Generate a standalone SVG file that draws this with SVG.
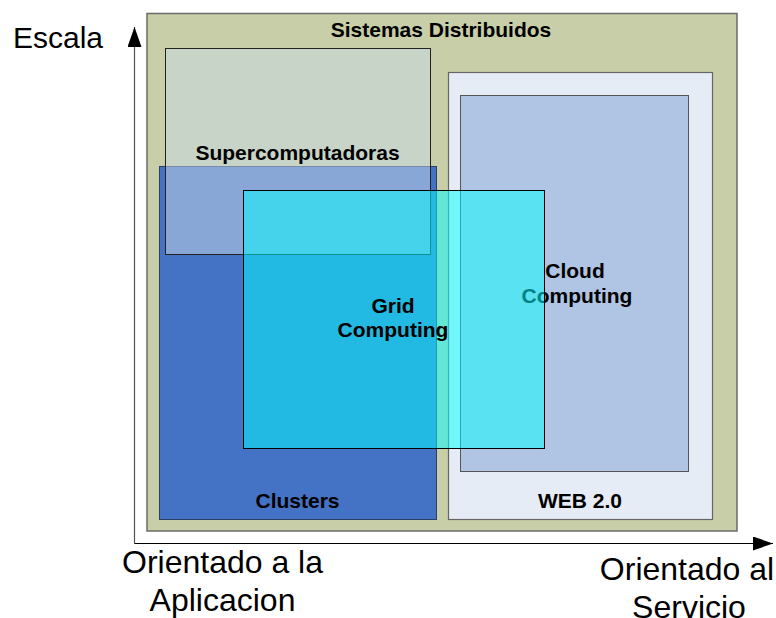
<svg xmlns="http://www.w3.org/2000/svg" width="776" height="618" viewBox="0 0 776 618">
  <style>
    .lbl { font-family: "Liberation Sans", Arial, sans-serif; font-weight: bold; font-size: 21px; fill: #000; text-anchor: middle; }
    .ax { font-family: "Liberation Sans", Arial, sans-serif; font-size: 32px; fill: #000; text-anchor: middle; }
  </style>
  <defs>
    <marker id="arr" markerWidth="20" markerHeight="14" refX="20" refY="7" orient="auto" markerUnits="userSpaceOnUse">
      <path d="M0,0 L20,7 L0,14 Z" fill="#000"/>
    </marker>
  </defs>
  <rect width="776" height="618" fill="#fff"/>

  <g id="sistemas-distribuidos">
    <rect x="147" y="13.5" width="590" height="517.5" fill="#C7CEA8" stroke="#6b6b6b" stroke-width="1.5"/>
    <text class="lbl" x="441" y="37">Sistemas Distribuidos</text>
  </g>

  <g id="clusters">
    <rect x="159.5" y="166.5" width="277" height="353" fill="#4472C4" stroke="#2a3f66" stroke-width="1"/>
    <text class="lbl" x="297.5" y="507.5">Clusters</text>
  </g>

  <g id="supercomputadoras">
    <rect x="165.5" y="48.5" width="265" height="206" fill="#CCDAE8" fill-opacity="0.5" stroke="#222" stroke-width="1"/>
    <text class="lbl" x="297.5" y="160">Supercomputadoras</text>
  </g>

  <g id="web20">
    <rect x="448.5" y="72.5" width="264" height="447" fill="#E6ECF6" stroke="#666" stroke-width="1.2"/>
    <text class="lbl" x="580" y="507.5">WEB 2.0</text>
  </g>

  <g id="cloud-computing">
    <rect x="460.5" y="95.5" width="228" height="376" fill="#B0C4E4" stroke="#555" stroke-width="1"/>
    <text class="lbl" x="575" y="278">Cloud</text>
    <text class="lbl" x="577" y="303">Computing</text>
  </g>

  <g id="grid-computing">
    <rect x="243.5" y="190.5" width="301" height="258" fill="#00FFFF" fill-opacity="0.5" stroke="#000" stroke-width="1"/>
    <text class="lbl" x="393" y="313">Grid</text>
    <text class="lbl" x="393" y="337">Computing</text>
  </g>

  <g id="connectors">
    <line x1="134.5" y1="543.5" x2="134.5" y2="27" stroke="#555" stroke-width="1.2" marker-end="url(#arr)"/>
    <line x1="134.5" y1="543.5" x2="773" y2="543.5" stroke="#000" stroke-width="1.2" marker-end="url(#arr)"/>
  </g>

  <g id="axis-labels">
    <text x="13" y="48" font-family="Liberation Sans, Arial, sans-serif" font-size="30" fill="#000">Escala</text>
    <text class="ax" x="222.5" y="573">Orientado a la</text>
    <text class="ax" x="222.5" y="611">Aplicacion</text>
    <text class="ax" x="687" y="580">Orientado al</text>
    <text class="ax" x="689" y="618">Servicio</text>
  </g>
</svg>
